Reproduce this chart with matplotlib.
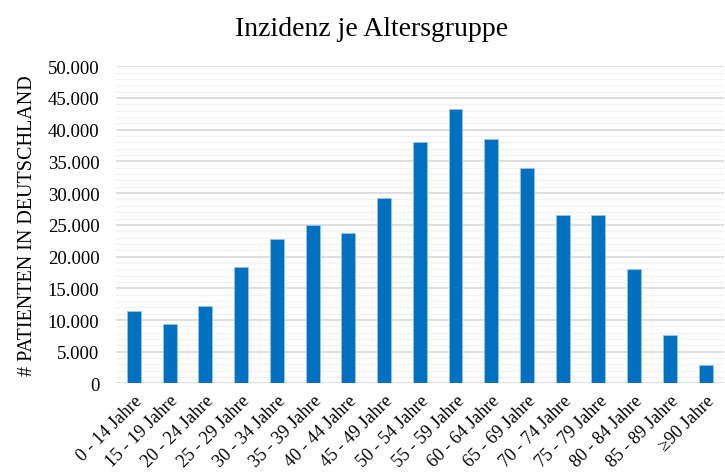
import numpy as np
import matplotlib.pyplot as plt
from matplotlib.ticker import FuncFormatter, MultipleLocator

categories = ["0 - 14 Jahre", "15 - 19 Jahre", "20 - 24 Jahre", "25 - 29 Jahre",
              "30 - 34 Jahre", "35 - 39 Jahre", "40 - 44 Jahre", "45 - 49 Jahre",
              "50 - 54 Jahre", "55 - 59 Jahre", "60 - 64 Jahre", "65 - 69 Jahre",
              "70 - 74 Jahre", "75 - 79 Jahre", "80 - 84 Jahre", "85 - 89 Jahre",
              "\u226590 Jahre"]
patients = [11400, 9450, 12200, 18300, 22700, 24900, 23700, 29300,
            38100, 43200, 38500, 34000, 26600, 26600, 18000, 7600, 2900]

plt.rcParams['font.family'] = ['Liberation Serif', 'DejaVu Serif']

fig = plt.figure(figsize=(7.25, 4.77), dpi=100)
ax = fig.add_axes([0.16, 0.194, 0.838, 0.665])

x = np.arange(len(categories))
ax.bar(x, patients, width=0.39, color='#0070C0', edgecolor='#9dc3e6', linewidth=0.6, zorder=3)

ax.set_xlim(-0.5, len(categories) - 0.5)
ax.set_ylim(0, 50000)
ax.yaxis.set_major_locator(MultipleLocator(5000))
ax.yaxis.set_minor_locator(MultipleLocator(1000))
ax.yaxis.set_major_formatter(FuncFormatter(lambda v, p: f"{int(v):,}".replace(",", ".")))
ax.grid(which='major', axis='y', color='#d9d9d9', linewidth=1.2, zorder=0)
ax.grid(which='minor', axis='y', color='#f2f2f2', linewidth=1.0, zorder=0)

for s in ax.spines.values():
    s.set_visible(False)
ax.tick_params(axis='both', which='both', length=0)
ax.tick_params(axis='y', labelsize=13.5, pad=12)

ax.set_xticks(x)
ax.set_xticklabels(categories, rotation=45, ha='right', rotation_mode='anchor', fontsize=13)
ax.tick_params(axis='x', pad=6)

ax.set_ylabel("# PATIENTEN IN DEUTSCHLAND", fontsize=14.5, labelpad=8)
fig.suptitle("Inzidenz je Altersgruppe", fontsize=20, x=0.513, y=0.965)

fig.savefig("out.png", dpi=100)
